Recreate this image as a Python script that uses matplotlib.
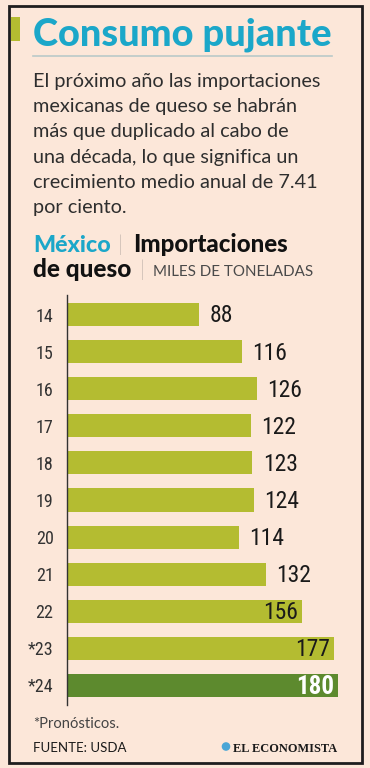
import matplotlib
matplotlib.use("Agg")
import matplotlib.pyplot as plt
import matplotlib.patches as patches
from matplotlib import font_manager

# datos (miles de toneladas)
years = ["14", "15", "16", "17", "18", "19", "20", "21", "22", "*23", "*24"]
imports = [88, 116, 126, 122, 123, 124, 114, 132, 156, 177, 180]

title = "Consumo pujante"
body_lines = [
    "El próximo año las importaciones",
    "mexicanas de queso se habrán",
    "más que duplicado al cabo de",
    "una década, lo que significa un",
    "crecimiento medio anual de 7.41",
    "por ciento.",
]

BG = "#fce7d9"
CYAN = "#1ba7c9"
LIGHT_GREEN = "#b4bc31"
DARK_GREEN = "#5d8a2e"
TEXT = "#2e2e2e"

installed = {f.name for f in font_manager.fontManager.ttflist}
narrow = None
for name in ["Roboto Condensed", "Liberation Sans Narrow",
             "DejaVu Sans Condensed", "Open Sans Condensed"]:
    if name in installed:
        narrow = name
        break
if narrow is None:
    narrow = "DejaVu Sans"
SANS = ["Lato", "DejaVu Sans"]

W, H = 370, 768
fig = plt.figure(figsize=(W / 100, H / 100), dpi=100, facecolor=BG)

# capa en pixeles para textos y adornos
ov = fig.add_axes([0, 0, 1, 1])
ov.set_xlim(0, W)
ov.set_ylim(H, 0)
ov.axis("off")
ov.patch.set_alpha(0)

renderer = fig.canvas.get_renderer()


def fit(t, width):
    # ajusta el tamaño de letra para ocupar un ancho en pixeles
    bb = t.get_window_extent(renderer)
    t.set_fontsize(t.get_fontsize() * width / bb.width)
    return t.get_fontsize()


# marco
ov.add_patch(patches.Rectangle((8.5, 5.5), 353, 757, fill=False,
                               edgecolor="#1e1e1e", lw=2))
# acento verde
ov.add_patch(patches.Rectangle((11, 17), 9, 24, color=LIGHT_GREEN, lw=0))

t = ov.text(33, 45, title, color=CYAN, fontsize=25, fontweight="black",
            family=SANS, va="baseline")
fit(t, 299)
ov.plot([33, 332], [55.5, 55.5], color="#b9c9c9", lw=1.2)

t0 = ov.text(33, 87, body_lines[0], color=TEXT, fontsize=14,
             family=SANS, va="baseline")
fs = fit(t0, 289)
for i, line in enumerate(body_lines[1:], start=1):
    ov.text(33, 87 + 25.2 * i, line, color=TEXT, fontsize=fs,
            family=SANS, va="baseline")

# subtitulo del grafico
h1 = ov.text(33, 252, "México", color=CYAN, fontsize=15, fontweight="black",
             family=SANS, va="baseline")
hs = fit(h1, 78)
ov.text(118, 251, "|", color="#666666", fontsize=hs * 0.9,
        family=SANS, fontweight="light", va="baseline")
h2 = ov.text(133, 252, "Importaciones", color="#111111", fontsize=hs,
             fontweight="black", family=SANS, va="baseline")
fit(h2, 155)
h3 = ov.text(33, 277, "de queso", color="#111111", fontsize=hs,
             fontweight="black", family=SANS, va="baseline")
fit(h3, 99)
ov.text(140, 276, "|", color="#666666", fontsize=hs * 0.9,
        family=SANS, fontweight="light", va="baseline")
m = ov.text(153, 276, "MILES DE TONELADAS", color="#4a4a4a", fontsize=10,
            family=SANS, va="baseline")
fit(m, 159)

# barras
scale = 1.508  # px por unidad
x0 = 66.7
ax = fig.add_axes([x0 / W, (H - 705) / H, (361 - x0) / W, 410 / H])
ax.set_facecolor("none")
pos = list(range(len(years)))
colors = [LIGHT_GREEN] * (len(years) - 1) + [DARK_GREEN]
ax.barh(pos, imports, height=0.62, color=colors)
ax.set_xlim(0, (361 - x0) / scale)
ax.set_ylim(len(years) - 1 + 0.526, -0.526)
for s in ["top", "right", "bottom"]:
    ax.spines[s].set_visible(False)
ax.spines["left"].set_color("#333333")
ax.spines["left"].set_linewidth(1)
ax.set_xticks([])
ax.set_yticks(pos)
ax.set_yticklabels(years, family=[narrow, "DejaVu Sans"],
                   fontsize=13, color="#333333")
ax.tick_params(axis="y", length=0, pad=9.5)

nsize = 17 if narrow != "DejaVu Sans" else 14
for i, v in enumerate(imports):
    if i == len(imports) - 1:
        ax.text(v - 2.5, i + 0.04, str(v), ha="right", va="center",
                color="white", fontsize=nsize + 1, fontweight="bold",
                family=[narrow, "DejaVu Sans"])
    elif v >= 150:
        ax.text(v - 2.5, i + 0.04, str(v), ha="right", va="center",
                color="#1a1a1a", fontsize=nsize, family=[narrow, "DejaVu Sans"])
    else:
        ax.text(v + 7, i + 0.04, str(v), ha="left", va="center",
                color="#1a1a1a", fontsize=nsize, family=[narrow, "DejaVu Sans"])

# pie
p = ov.text(33, 728, "*Pronósticos.", color="#444444", fontsize=10.5,
            family=SANS, va="baseline")
fit(p, 87)
f = ov.text(33, 752, "FUENTE: USDA", color="#1a1a1a", fontsize=10.5,
            family=SANS, va="baseline")
fit(f, 94)
ov.add_patch(patches.Circle((226, 746.5), 4.3, color="#4aa6d6", lw=0))
e = ov.text(233, 752, "EL ECONOMISTA", color="#1a1a1a", fontsize=10,
            fontweight="bold", family=["Liberation Serif", "DejaVu Serif"],
            va="baseline")
fit(e, 104)

fig.savefig("out.png", dpi=100, facecolor=BG)
